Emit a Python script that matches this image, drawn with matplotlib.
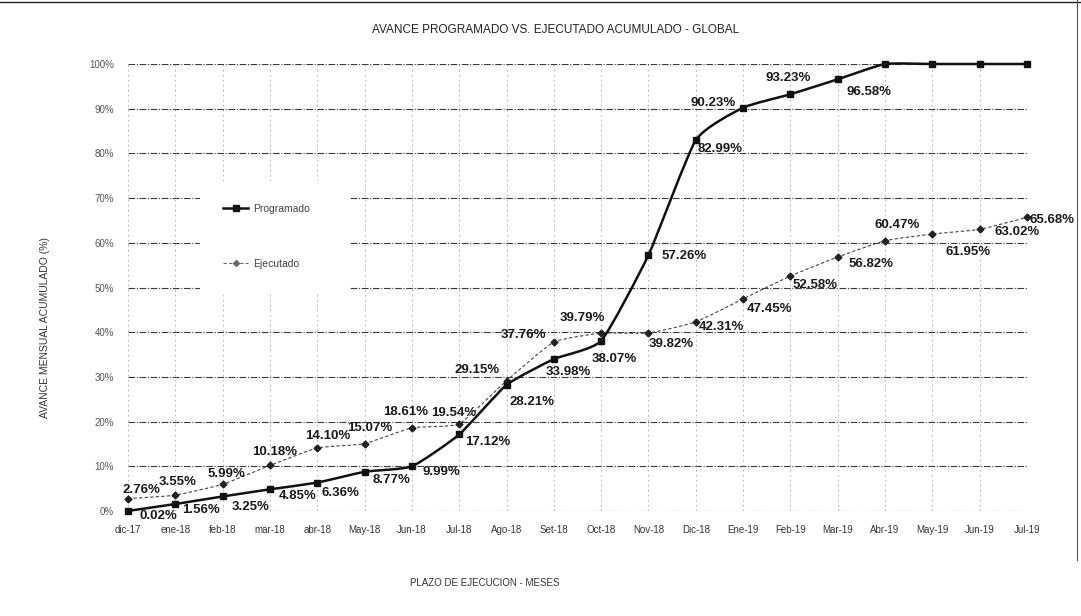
import matplotlib
matplotlib.use("Agg")
import matplotlib.pyplot as plt
from matplotlib.path import Path
from matplotlib.patches import PathPatch
from matplotlib.lines import Line2D
import numpy as np

# ---- data ----
months = ["dic-17", "ene-18", "feb-18", "mar-18", "abr-18", "May-18", "Jun-18", "Jul-18",
          "Ago-18", "Set-18", "Oct-18", "Nov-18", "Dic-18", "Ene-19", "Feb-19", "Mar-19",
          "Abr-19", "May-19", "Jun-19", "Jul-19"]
programado = [0.02, 1.56, 3.25, 4.85, 6.36, 8.77, 9.99, 17.12, 28.21, 33.98, 38.07, 57.26,
              82.99, 90.23, 93.23, 96.58, 100, 100, 100, 100]
ejecutado = [2.76, 3.55, 5.99, 10.18, 14.10, 15.07, 18.61, 19.54, 29.15, 37.76, 39.79, 39.82,
             42.31, 47.45, 52.58, 56.82, 60.47, 61.95, 63.02, 65.68]
prog_labeled = 16   # first 16 points carry labels
yticks = list(range(0, 101, 10))
ytick_labels = [f"{v}%" for v in yticks]

# label offsets (pixels) -- style/position only
prog_off = [(30, -5), (26, -6), (28, -11), (28, -7), (23, -10), (27, -8), (29, -6), (29, -8),
            (25, -17), (14, -13), (13, -18), (36, -1), (24, -9), (-30, 5), (-2, 16), (31, -13)]
ejec_off = [(13, 9), (2, 13), (4, 10), (5, 13), (10, 12), (5, 16), (-6, 16), (-5, 11),
            (-29, 11), (-30, 7), (-19, 15), (23, -11), (26, -5), (26, -10), (25, -9), (33, -7),
            (12, 16), (36, -18), (37, -3), (25, -3)]

W, H = 1081, 616
fig = plt.figure(figsize=(W / 100, H / 100), dpi=100)
ax = fig.add_axes([128 / W, (H - 511) / H, (1027 - 128) / W, (511 - 64) / H])
ax.set_xlim(0, len(months) - 1)
ax.set_ylim(0, 100)
for s in ax.spines.values():
    s.set_visible(False)

FONT = "Liberation Sans"

# grids
for v in yticks:
    ax.axhline(v, color="#3a3a3a", lw=0.8, ls=(0, (6, 1.5, 1, 1.5)), zorder=1)
for i in range(len(months)):
    ax.axvline(i, color="#a5a5a5", lw=0.6, ls=(0, (2, 4)), zorder=1)


def smooth_path(xs, ys, k=12.0):
    pts = np.column_stack([xs, ys]).astype(float)
    n = len(pts)
    verts = [pts[0]]
    codes = [Path.MOVETO]
    for i in range(n - 1):
        p0 = pts[i - 1] if i > 0 else pts[i]
        p1 = pts[i]
        p2 = pts[i + 1]
        p3 = pts[i + 2] if i + 2 < n else pts[i + 1]
        c1 = p1 + (p2 - p0) / k
        c2 = p2 - (p3 - p1) / k
        verts += [c1, c2, p2]
        codes += [Path.CURVE4] * 3
    return Path(verts, codes)


x = np.arange(len(months))

# Ejecutado
ax.add_patch(PathPatch(smooth_path(x, ejecutado), fill=False, edgecolor="#444444",
                       lw=0.8, ls=(0, (3, 2)), zorder=3, clip_on=False))
ax.plot(x, ejecutado, ls="none", marker="D", ms=3.5, color="#222222", zorder=4, clip_on=False)

# Programado
ax.add_patch(PathPatch(smooth_path(x, programado), fill=False, edgecolor="#111111",
                       lw=1.8, zorder=5, clip_on=False))
ax.plot(x, programado, ls="none", marker="s", ms=5, color="#111111", zorder=6, clip_on=False)

lab_kw = dict(textcoords="offset pixels", ha="center", va="center", fontsize=9.5,
              fontfamily=FONT, fontweight="bold", color="#1a1a1a", zorder=7,
              annotation_clip=False)
for i in range(prog_labeled):
    ax.annotate(f"{programado[i]:.2f}%", (x[i], programado[i]), xytext=prog_off[i], **lab_kw)
for i in range(len(ejecutado)):
    ax.annotate(f"{ejecutado[i]:.2f}%", (x[i], ejecutado[i]), xytext=ejec_off[i], **lab_kw)

# ticks
ax.set_yticks(yticks)
ax.set_yticklabels(ytick_labels, fontfamily=FONT, fontsize=7, color="#555555")
ax.set_xticks(x)
ax.set_xticklabels(months, fontfamily=FONT, fontsize=7, color="#333333")
ax.tick_params(axis="both", length=0)
ax.tick_params(axis="y", pad=10)
ax.tick_params(axis="x", pad=10)

# legend
handles = [Line2D([], [], color="#111111", lw=1.8, marker="s", ms=5),
           Line2D([], [], color="#666666", lw=0.8, ls=(0, (3, 2)), marker="D", ms=3)]
leg = ax.legend(handles, ["Programado", "Ejecutado"], loc="upper left",
                bbox_to_anchor=(0.0745, 0.75, 0.178, 0.0), mode="expand",
                prop={"family": FONT, "size": 7.5}, labelspacing=4.3, borderpad=2.2,
                handlelength=2.4, handletextpad=0.5, frameon=True, fancybox=False,
                framealpha=1, edgecolor="none", labelcolor="#444444")
leg.set_zorder(8)

# texts
fig.text(556 / W, 1 - 30 / H, "AVANCE PROGRAMADO VS. EJECUTADO ACUMULADO - GLOBAL",
         ha="center", va="center", fontfamily=FONT, fontsize=8.5, color="#222222")
fig.text(45 / W, 1 - 327 / H, "AVANCE MENSUAL ACUMULADO (%)", rotation=90,
         ha="center", va="center", fontfamily=FONT, fontsize=7.5, color="#333333")
fig.text(485 / W, 1 - 583 / H, "PLAZO DE EJECUCION - MESES",
         ha="center", va="center", fontfamily=FONT, fontsize=7, color="#333333")

# scan border
fig.add_artist(Line2D([0, 1], [1 - 2 / H, 1 - 2 / H], transform=fig.transFigure,
                      color="#222222", lw=1.0))
fig.add_artist(Line2D([1077 / W, 1077 / W], [1 - 560 / H, 1], transform=fig.transFigure,
                      color="#555555", lw=0.8))

fig.savefig("out.png", dpi=100, facecolor="white")
